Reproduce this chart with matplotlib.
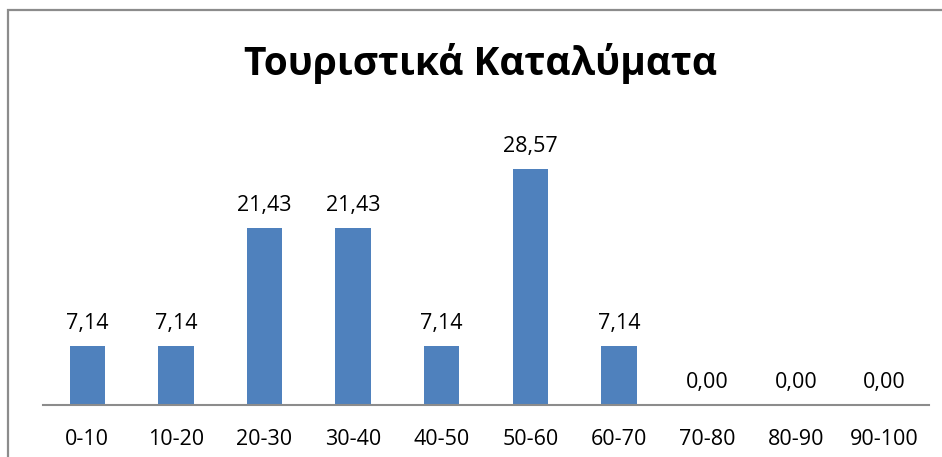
import matplotlib.pyplot as plt
from matplotlib.patches import Rectangle

categories = ["0-10", "10-20", "20-30", "30-40", "40-50", "50-60", "60-70", "70-80", "80-90", "90-100"]
values = [7.14, 7.14, 21.43, 21.43, 7.14, 28.57, 7.14, 0.00, 0.00, 0.00]
title = "Τουριστικά Καταλύματα"

plt.rcParams['font.family'] = ['Open Sans', 'Noto Sans', 'DejaVu Sans']

W, H = 942, 457
fig = plt.figure(figsize=(W / 100, H / 100), dpi=100)

# outer chart frame (cut off at right and bottom like the screenshot)
fig.patches.append(Rectangle((8 / W, -0.1), 1.2, (H - 9.5) / H + 0.1, transform=fig.transFigure,
                             fill=False, edgecolor="#8c8c8c", linewidth=1.6))

left, right, bottom, top = 43, 929, 405, 116
ax = fig.add_axes([left / W, (H - bottom) / H, (right - left) / W, (bottom - top) / H])

x = range(len(categories))
ax.bar(x, values, width=0.4, color="#4F81BD")
ax.set_xlim(-0.5, len(categories) - 0.5)
ax.set_ylim(0, 35)

for xi, v in zip(x, values):
    ax.text(xi, v + 1.5, f"{v:.2f}".replace(".", ","), ha="center", va="bottom", fontsize=15.5, color="#000000")

ax.set_xticks(list(x))
ax.set_xticklabels(categories, fontsize=15.5)
ax.tick_params(axis="x", length=0, pad=17)
ax.set_yticks([])
for s in ["left", "right", "top"]:
    ax.spines[s].set_visible(False)
ax.spines["bottom"].set_color("#8c8c8c")
ax.spines["bottom"].set_linewidth(1.5)

fig.text(480 / W, (H - 63) / H, title, ha="center", va="center", fontsize=28, fontweight="bold")

fig.savefig("out.png", dpi=100)
